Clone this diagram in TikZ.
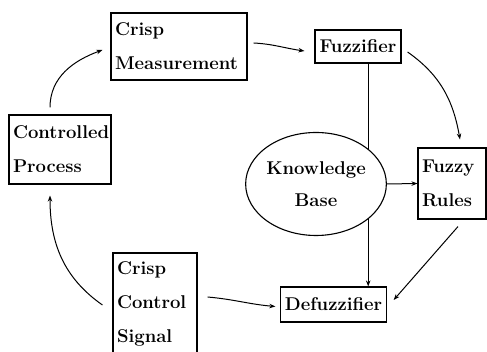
\documentclass[tikz,border=0pt]{standalone}
\usetikzlibrary{arrows.meta,shapes.geometric}
\tikzset{
  box/.style={draw, line width=1.1pt, inner xsep=4pt, inner ysep=0pt,
    font=\fontsize{18.5}{34}\selectfont\bfseries, align=left},
  kbstyle/.style={draw, ellipse, line width=1.1pt, inner sep=0pt,
    font=\fontsize{18.5}{32}\selectfont\bfseries, align=center},
  arr/.style={line width=1pt, -{Stealth[length=6pt,width=4.5pt]}},
  ln/.style={line width=1pt}
}
\begin{document}
\begin{tikzpicture}[x=1pt,y=1pt]
\useasboundingbox (0,0) rectangle (487,352);
\fill[white] (0,0) rectangle (487,352);
\node[box, text width=128pt, minimum height=67pt] (cm) at (179,305.5) {Crisp\\Measurement};
\node[box, align=center, minimum width=86pt, minimum height=33pt] (fz) at (358,305.5) {Fuzzifier};
\node[box, text width=94pt, minimum height=69pt] (cp) at (60,202.5) {Controlled\\Process};
\node[box, text width=60pt, minimum height=71pt] (fr) at (452,168.5) {Fuzzy\\Rules};
\node[box, text width=76pt, minimum height=102pt] (ccs) at (155,48) {Crisp\\Control\\Signal};
\node[box, align=center, minimum width=103pt, minimum height=35pt] (df) at (333.5,47.5) {Defuzzifier};
\node[kbstyle, minimum width=138pt, minimum height=103pt] (kb) at (316,168) {Knowledge\\Base};

\draw[arr] ([xshift=-10pt,yshift=7pt]cp.north) to[out=90,in=200] ([xshift=-8pt,yshift=-3.5pt]cm.west);
\draw[arr] ([xshift=6pt,yshift=3.5pt]cm.east) to[out=-3,in=172] ([xshift=-10pt,yshift=-4.5pt]fz.west);
\draw[arr] ([xshift=6pt,yshift=-5.5pt]fz.east) to[out=-35,in=100] ([xshift=8pt,yshift=8pt]fr.north);
\draw[ln] (kb.34) -- (kb.34 |- fz.south);
\draw[arr] (kb.-34) -- (kb.-34 |- df.north);
\draw[arr] (kb.east) -- (fr.west);
\draw[arr] ([xshift=6pt,yshift=-7pt]fr.south) -- ([xshift=7pt,yshift=4.5pt]df.east);
\draw[arr] ([xshift=10pt,yshift=7pt]ccs.east) to[out=-5,in=175] ([xshift=-5pt,yshift=-2pt]df.west);
\draw[arr] ([xshift=-10pt,yshift=-1pt]ccs.west) to[out=145,in=-90] ([xshift=-10pt,yshift=-11pt]cp.south);
\end{tikzpicture}
\end{document}
